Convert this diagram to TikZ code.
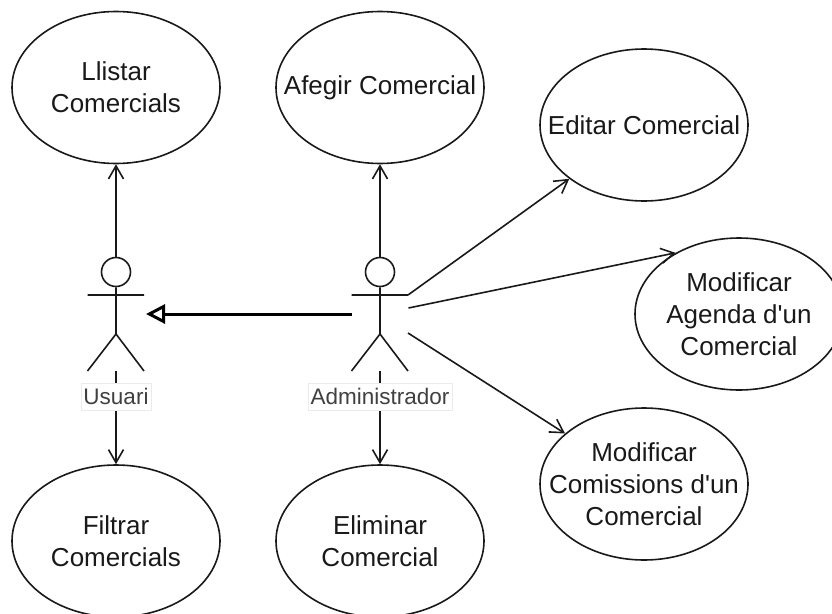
\documentclass[tikz,border=0pt]{standalone}
\usepackage{fontspec}
\setmainfont{Liberation Sans}[Ligatures=TeXOff]
\usetikzlibrary{arrows.meta,shapes.geometric}
\definecolor{ink}{RGB}{25,25,25}
\tikzset{
  usecase/.style={draw=ink,line width=1.6pt,ellipse,inner xsep=-60pt,inner ysep=-40pt,minimum width=208pt,minimum height=152pt,align=center,font=\fontsize{26}{32}\selectfont,text=ink},
  actorline/.style={draw=ink,line width=1.6pt},
  actorhead/.style={draw=ink,line width=1.6pt,circle,inner sep=0pt,minimum size=29pt},
  assoc/.style={draw=ink,line width=1.6pt,-{Straight Barb[length=13pt,width=15pt,line width=1.6pt]}},
  inherit/.style={draw=black,line width=3pt,-{Triangle[open,length=19pt,width=19pt,line width=3pt]}},
  actorlabel/.style={draw=black!8,line width=.6pt,fill=white,font=\fontsize{22.5}{26}\selectfont,text=black!75,inner xsep=2.5pt,inner ysep=0pt,minimum height=27pt}
}
\begin{document}
\begin{tikzpicture}[x=1pt,y=-1pt]
\useasboundingbox (0,0) rectangle (832,613);
\clip (0,0) rectangle (832,613);
\node[usecase] (llistar) at (116,87.5) {Llistar\\Comercials};
\node[usecase] (afegir) at (380,87.5) {Afegir Comercial};
\node[usecase] (editar) at (644,125) {Editar Comercial};
\node[usecase] (agenda) at (739,314) {Modificar\\Agenda d'un\\Comercial};
\node[usecase] (comissions) at (644,484) {Modificar\\Comissions d'un\\Comercial};
\node[usecase] (filtrar) at (116,541) {Filtrar\\Comercials};
\node[usecase] (eliminar) at (380,541) {Eliminar\\Comercial};

\node[actorhead] (uHead) at (116,272) {};
\node[actorhead] (aHead) at (380,272) {};
\coordinate (uFeet) at (116,371);
\coordinate (uInh) at (146,314);
\coordinate (aFeet) at (380,371);
\coordinate (aInh) at (352,314);
\coordinate (aE) at (408,295);
\coordinate (aA) at (408.5,308);
\coordinate (aC) at (408,333);

\draw[actorline] (uHead.south) -- (116,334) (87.5,295) -- (144,295) (87.5,371) -- (116,334) -- (144,371);
\draw[actorline] (aHead.south) -- (380,334) (351.5,295) -- (408,295) (351.5,371) -- (380,334) -- (408,371);

\draw[assoc] (uHead.north) -- (llistar.south);
\draw[assoc] (aHead.north) -- (afegir.south);
\draw[assoc] (uFeet) -- (filtrar.north);
\draw[assoc] (aFeet) -- (eliminar.north);
\draw[assoc] (aE) -- (editar);
\draw[assoc] (aA) -- (agenda.136);
\draw[assoc] (aC) -- (comissions);
\draw[inherit] (aInh) -- (uInh);

\node[actorlabel] (usuari) at (116,396.5) {Usuari};
\node[actorlabel] (admin) at (380,396.5) {Administrador};
\end{tikzpicture}
\end{document}
